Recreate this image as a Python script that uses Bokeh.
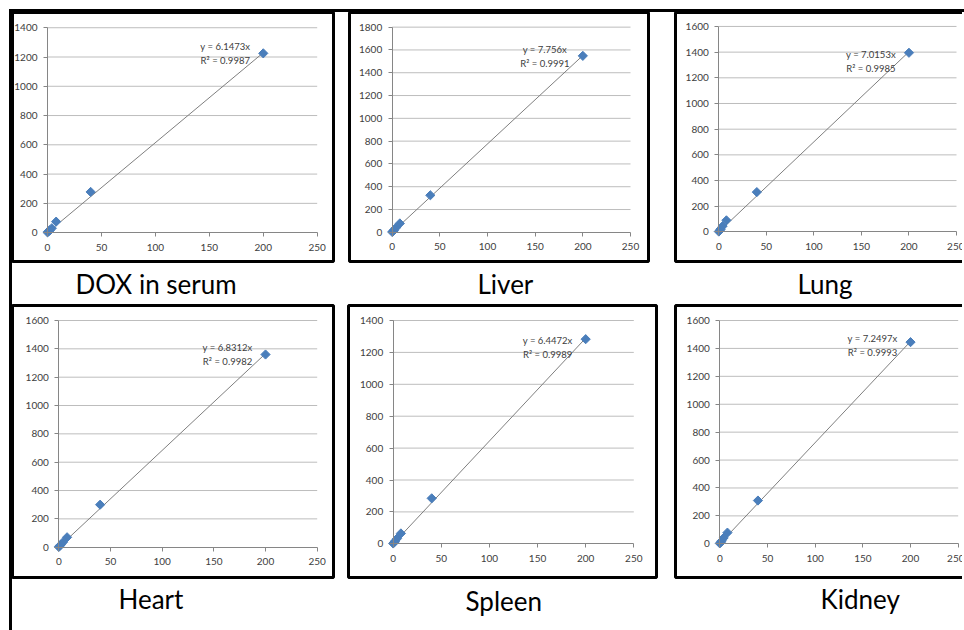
from bokeh.plotting import figure
from bokeh.layouts import row, column
from bokeh.models import Spacer, FixedTicker, ColumnDataSource, Range1d
from bokeh.embed import file_html
from bokeh.resources import INLINE
from bokeh.core.properties import value

# ---------------- data ----------------
panel_names = ["DOX in serum", "Liver", "Lung", "Heart", "Spleen", "Kidney"]
conc = [0, 1, 2, 4, 8, 40, 200]
dox_serum = [2, 8, 15, 30, 75, 278, 1225]
liver = [3, 10, 20, 40, 78, 325, 1548]
lung = [3, 12, 22, 45, 90, 310, 1395]
heart = [2, 10, 18, 35, 70, 300, 1360]
spleen = [2, 9, 17, 33, 65, 285, 1283]
kidney = [3, 11, 21, 42, 80, 310, 1445]
series = [dox_serum, liver, lung, heart, spleen, kidney]
slopes = ["6.1473", "7.756", "7.0153", "6.8312", "6.4472", "7.2497"]
r_squared = ["0.9987", "0.9991", "0.9985", "0.9982", "0.9989", "0.9993"]
y_max = [1400, 1800, 1600, 1600, 1400, 1600]
x_ticks = [0, 50, 100, 150, 200, 250]
y_step = 200

# ---------------- layout / style (page pixels) ----------------
# frame (box) left, right, top, bottom ; px of x=0, px of x=250, px of y=0, px of y=max
GEOM = [
    dict(f=(12, 333, 12, 262), a=(47.0, 316.7, 233.0, 27.3), mb=(0, 2, 0, 42), lab=63, sd=9, eq=-7, clip=False),
    dict(f=(349, 648, 12, 262), a=(391.7, 630.0, 232.7, 26.7), mb=(2, 2, 0, 42), lab=128, sd=9, eq=-6, clip=False),
    dict(f=(675, 964, 12, 262), a=(718.3, 956.0, 232.3, 26.0), mb=(2, 0, 0, 42), lab=122, sd=9, eq=2, clip=True),
    dict(f=(12, 333, 305, 577), a=(58.3, 316.7, 546.7, 320.0), mb=(0, 2, 1, 53), lab=106, sd=6, eq=-7, clip=False),
    dict(f=(348, 656, 305, 577), a=(392.7, 633.3, 543.3, 320.0), mb=(2, 2, 1, 53), lab=117, sd=10, eq=1, clip=False),
    dict(f=(675, 964, 305, 577), a=(719.3, 957.7, 543.3, 320.0), mb=(2, 0, 1, 53), lab=145, sd=6, eq=-4, clip=True),
]

FONT = "Lato"
MARK = "#4a7ebb"
AXIS = "#868686"
GRID = "#bdbdbd"
TXT = "#404040"


def make_panel(i):
    g = GEOM[i]
    fl, fr, ft, fb = g["f"]
    x0p, x250p, y0p, ytp = g["a"]
    mbl, mbr, mbt, mbb = g["mb"]
    ymax = y_max[i]
    xmax = x_ticks[-1]
    sx = (x250p - x0p) / xmax
    sy = (y0p - ytp) / ymax
    xr = Range1d((fl - x0p) / sx, xmax + (fr - x250p) / sx)
    yr = Range1d(-(fb - y0p) / sy, ymax + (ytp - ft) / sy)
    w = (fr - fl) + mbl + mbr
    h = (fb - ft) + mbt + mbb
    extra = {}
    if g["clip"]:
        extra["styles"] = {"clip-path": "inset(0px 2px 0px 0px)"}
    p = figure(width=w, height=h, x_range=xr, y_range=yr, output_backend="svg",
               toolbar_location=None, tools="", title=panel_names[i],
               title_location="below",
               min_border_left=mbl, min_border_right=mbr,
               min_border_top=mbt, min_border_bottom=mbb, **extra)
    p.outline_line_color = "black"
    p.outline_line_width = 3
    p.background_fill_color = "white"
    p.border_fill_color = "white"
    p.grid.visible = False

    p.title.text_font = FONT
    p.title.text_font_size = "26px"
    p.title.text_font_style = "normal"
    p.title.text_color = "black"
    p.title.align = "left"
    p.title.offset = g["lab"]
    p.title.standoff = g["sd"]

    y_ticks = list(range(0, ymax + 1, y_step))
    for ax in (p.xaxis[0], p.yaxis[0]):
        ax.fixed_location = 0
        ax.axis_line_color = AXIS
        ax.major_tick_line_color = AXIS
        ax.minor_tick_line_color = None
        ax.major_tick_in = 0
        ax.major_tick_out = 4
        ax.major_label_text_font = FONT
        ax.major_label_text_font_size = "10px"
        ax.major_label_text_color = TXT
    p.xaxis[0].ticker = FixedTicker(ticks=x_ticks)
    p.yaxis[0].ticker = FixedTicker(ticks=y_ticks)
    p.xaxis[0].bounds = (x_ticks[0], x_ticks[-1])
    p.yaxis[0].bounds = (0, ymax)
    p.xaxis[0].major_label_standoff = 7
    p.yaxis[0].major_label_standoff = 6

    # horizontal gridlines
    gy = y_ticks[1:]
    grid_src = ColumnDataSource(dict(x0=[x_ticks[0]] * len(gy), x1=[x_ticks[-1]] * len(gy), y=gy))
    p.segment(x0="x0", y0="y", x1="x1", y1="y", source=grid_src, line_color=GRID, line_width=1)

    # trendline y = slope * x
    s = float(slopes[i])
    xs = [0, conc[-1]]
    p.line(xs, [s * v for v in xs], line_color="#7f7f7f", line_width=1)

    # data points
    p.scatter(conc, series[i], marker="square", angle=0.785398, size=6.5,
              fill_color=MARK, line_color=MARK, line_width=1)

    # equation labels
    lx, ly = conc[-1], series[i][-1]
    p.text(x=[lx, lx], y=[ly, ly], text=["y = " + slopes[i] + "x", "R\u00b2 = " + r_squared[i]],
           x_offset=-38, y_offset=[g["eq"], g["eq"] + 14],
           text_align="center", text_baseline="middle",
           text_font=value(FONT), text_font_size="9.5px", text_color=TXT)
    return p


panels = [make_panel(i) for i in range(6)]

row1 = row(panels[0], Spacer(width=12, height=10), panels[1], Spacer(width=23, height=10), panels[2])
row2 = row(panels[3], Spacer(width=11, height=10), panels[4], Spacer(width=15, height=10), panels[5])
root = column(row1, row2, margin=(9, 0, 0, 9),
              styles={"border-top": "3px solid black", "border-left": "3px solid black",
                      "background-color": "white"})

open("out.html", "w").write(file_html(root, INLINE, title="Calibration curves"))
